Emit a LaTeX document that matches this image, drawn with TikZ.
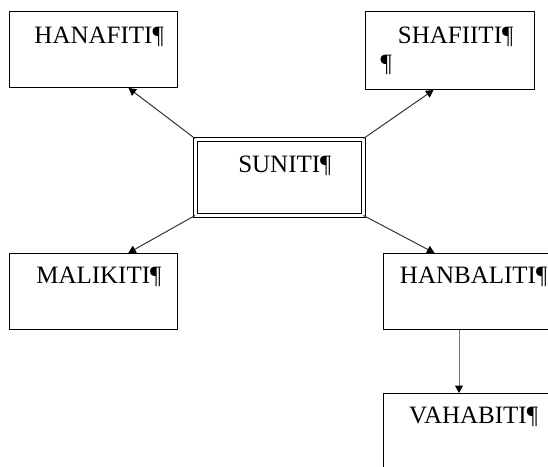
\documentclass[tikz,border=0pt]{standalone}
\usepackage{fontspec}
\setmainfont{Liberation Serif}
\usepackage{tikz}
\usetikzlibrary{positioning}
\usetikzlibrary{arrows.meta}
\tikzset{>=latex}
\tikzset{
  branch/.style={draw, line width=1pt, inner sep=0pt, minimum width=169pt,
    anchor=north west, text height=30pt, text depth=46pt,
    font=\fontsize{25}{28}\selectfont},
  link/.style={-{Triangle[width=8pt,length=7.5pt,color=black]},
    line width=1pt, draw=black!80}
}

\begin{document}
\begin{tikzpicture}[x=1pt,y=-1pt]
\clip (0,0) rectangle (548,466);

% ---------- Centre ----------
\node[draw, double, double distance=3pt, line width=1pt, inner sep=0pt,
  minimum width=167.5pt, text height=33pt, text depth=43pt,
  font=\fontsize{25}{28}\selectfont] (suniti) at (279.25,177) {SUNITI\rlap{¶}};

% ---------- Upper boxes ----------
\node[branch, minimum width=168pt, text height=32pt, text depth=44pt]
  (hanafiti) at (9,11) {HANAFITI\rlap{¶}};
\node[branch, text height=32pt, text depth=46pt]
  (shafiiti) at (365,11) {\parbox[t]{139pt}{\makebox[139pt]{SHAFIITI\rlap{¶}}\\¶}};

% ---------- Lower boxes ----------
\node[branch, minimum width=168.5pt] (malikiti) at (8.5,253) {MALIKITI\rlap{¶}};
\node[branch] (hanbaliti) at (383,253) {HANBALITI\rlap{¶}};
\node[branch] (vahabiti) at (383,393) {VAHABITI\rlap{¶}};

% ---------- Arrows ----------
\draw[link] (suniti.north west) -- ([xshift=35pt]hanafiti.south);
\draw[link] (suniti.north east) -- ([xshift=-16.5pt]shafiiti.south);
\draw[link] (suniti.south west) -- ([xshift=35pt]malikiti.north);
\draw[link] (suniti.south east) -- ([xshift=-33.5pt]hanbaliti.north);
\draw[link, draw=black!45!red!10!gray] ([xshift=-9pt]hanbaliti.south) -- ([xshift=-9pt]vahabiti.north);

\end{tikzpicture}
\end{document}
